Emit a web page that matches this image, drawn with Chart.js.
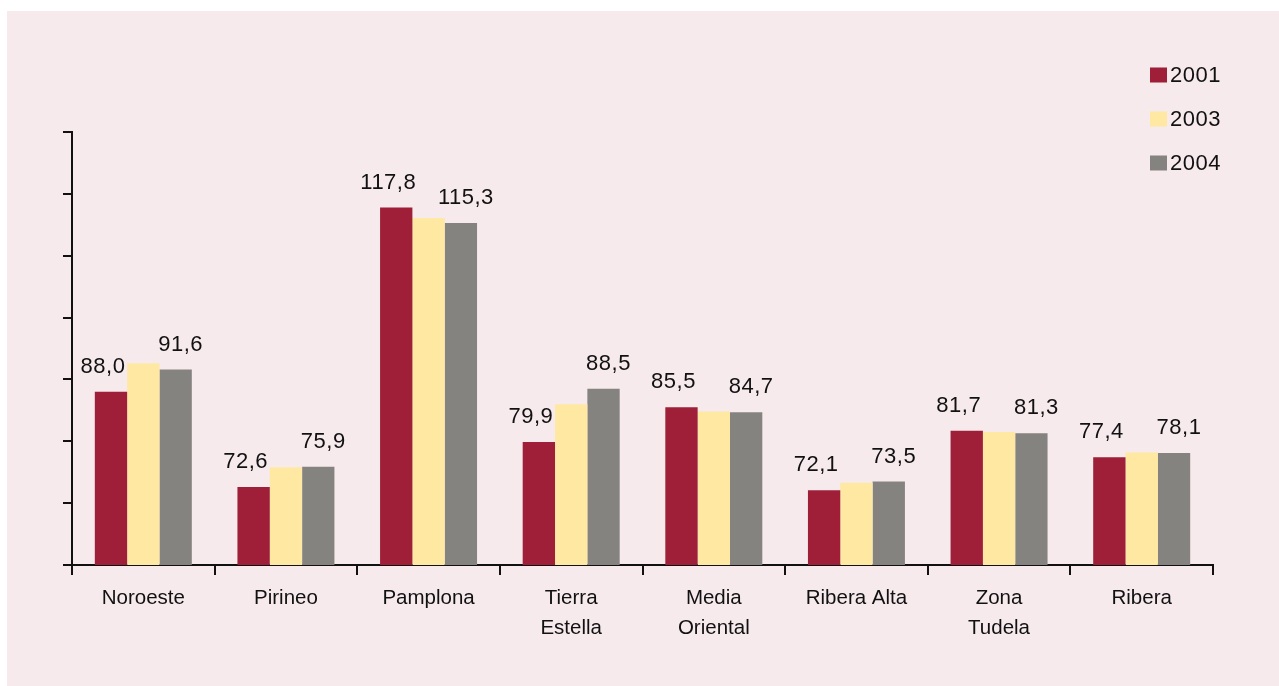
<!DOCTYPE html>
<html>
<head>
<meta charset="utf-8">
<script src="https://cdn.jsdelivr.net/npm/chart.js@4/dist/chart.umd.min.js"></script>
<style>
  html, body { margin: 0; padding: 0; background: #ffffff; }
  #panel { position: absolute; left: 7px; top: 11px; width: 1272px; height: 675px; background: #F6EAED; }
  #wrap { position: absolute; left: 0; top: 0; width: 1279px; height: 686px; }
</style>
</head>
<body>
<div id="panel"></div>
<div id="wrap"><canvas id="c" width="1279" height="686"></canvas></div>
<script>
// Comarcas
const categories = [
  'Noroeste', 'Pirineo', 'Pamplona', ['Tierra', 'Estella'],
  ['Media', 'Oriental'], 'Ribera Alta', ['Zona', 'Tudela'], 'Ribera'
];
const years = ['2001', '2003', '2004'];
const values2001 = [88.0, 72.6, 117.8, 79.9, 85.5, 72.1, 81.7, 77.4];
const values2003 = [92.6, 75.8, 116.1, 86.0, 84.8, 73.3, 81.5, 78.2];
const values2004 = [91.6, 75.9, 115.3, 88.5, 84.7, 73.5, 81.3, 78.1];
const yTicks = [60, 70, 80, 90, 100, 110, 120, 130];

const colors = ['#9E1F37', '#FEE8A2', '#858380'];
const labelFont = '22px "Liberation Sans", Arial, sans-serif';

const fmt = v => v.toFixed(1).replace('.', ',');

// Value labels above the 2001 and 2004 bars
const valueLabels = {
  id: 'valueLabels',
  afterDatasetsDraw(chart) {
    const ctx = chart.ctx;
    ctx.save();
    ctx.font = labelFont;
    ctx.letterSpacing = '0.5px';
    ctx.fillStyle = '#111111';
    ctx.textAlign = 'center';
    ctx.textBaseline = 'middle';
    const shifts = { 0: -8, 2: 5 };
    [0, 2].forEach(di => {
      const meta = chart.getDatasetMeta(di);
      const data = chart.data.datasets[di].data;
      meta.data.forEach((bar, i) => {
        ctx.fillText(fmt(data[i]), bar.x + shifts[di], bar.y - 25);
      });
    });
    ctx.restore();
  }
};

// Legend stacked at the top right
const sideLegend = {
  id: 'sideLegend',
  afterDraw(chart) {
    const ctx = chart.ctx;
    ctx.save();
    ctx.font = labelFont;
    ctx.letterSpacing = '0.5px';
    ctx.textAlign = 'left';
    ctx.textBaseline = 'middle';
    chart.data.datasets.forEach((ds, i) => {
      const cy = 75 + i * 44;
      ctx.fillStyle = ds.backgroundColor;
      ctx.fillRect(1150, cy - 7.5, 17, 15);
      ctx.fillStyle = '#111111';
      ctx.fillText(ds.label, 1170, cy + 1);
    });
    ctx.restore();
  }
};

new Chart(document.getElementById('c'), {
  type: 'bar',
  data: {
    labels: categories,
    datasets: [
      { label: years[0], data: values2001, backgroundColor: colors[0] },
      { label: years[1], data: values2003, backgroundColor: colors[1] },
      { label: years[2], data: values2004, backgroundColor: colors[2] }
    ]
  },
  options: {
    responsive: false,
    animation: false,
    events: [],
    layout: { padding: { left: 63, top: 132, right: 66, bottom: 0 } },
    datasets: { bar: { categoryPercentage: 0.68, barPercentage: 1.0, borderWidth: 0 } },
    plugins: { legend: { display: false }, tooltip: { enabled: false } },
    scales: {
      x: {
        grid: { offset: true, drawOnChartArea: false, drawTicks: true, tickLength: 10, color: '#111111', lineWidth: 2 },
        border: { display: true, color: '#111111', width: 2 },
        ticks: {
          color: '#111111',
          padding: 8,
          autoSkip: false,
          maxRotation: 0,
          font: { family: '"Liberation Sans", Arial, sans-serif', size: 20.5, lineHeight: 1.46 }
        },
        afterFit(scale) { scale.height = 121; }
      },
      y: {
        min: yTicks[0],
        max: yTicks[yTicks.length - 1],
        afterBuildTicks(scale) { scale.ticks = yTicks.map(v => ({ value: v })); },
        grid: { drawOnChartArea: false, drawTicks: true, tickLength: 9, color: '#111111', lineWidth: 2 },
        border: { display: true, color: '#111111', width: 2 },
        ticks: { display: false },
        afterFit(scale) { scale.width = 9; }
      }
    }
  },
  plugins: [valueLabels, sideLegend]
});
</script>
</body>
</html>
